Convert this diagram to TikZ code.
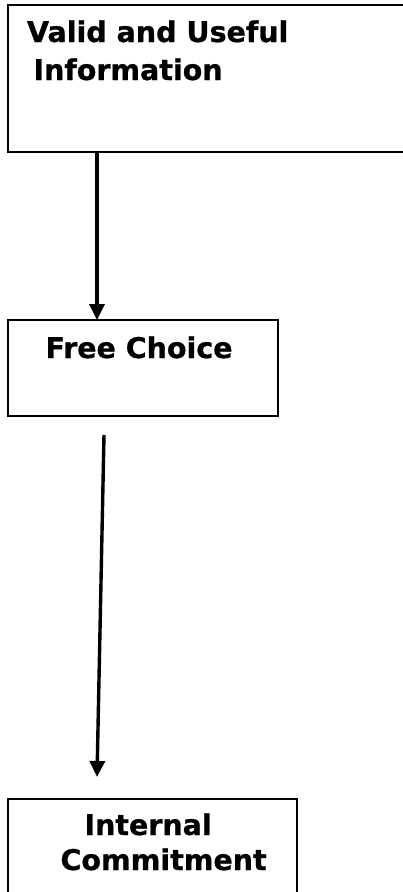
\documentclass[tikz,border=0pt]{standalone}
\usepackage{fontspec}
\setmainfont{DejaVu Sans}[BoldFeatures={FakeBold=0.8}]
\usetikzlibrary{arrows.meta}
\begin{document}
\begin{tikzpicture}[x=1pt,y=-1pt,
  box/.style={draw, line width=2.4pt, rectangle, inner sep=0pt, outer sep=0pt, anchor=north west},
  lbl/.style={inner sep=0pt, outer sep=0pt, anchor=base west, font=\fontsize{28.5}{34}\selectfont\bfseries},
  conn/.style={line width=3.4pt, -{Triangle[width=15pt,length=16pt]}}]
\clip (0,0) rectangle (403,892);
\fill[white] (0,0) rectangle (403,892);
% boxes
\node[box, minimum width=420pt, minimum height=147pt] (b1) at (8,5) {};
\node[box, minimum width=270pt, minimum height=96pt] (b2) at (8,320) {};
\node[box, minimum width=289pt, minimum height=120pt] (b3) at (8,799) {};
% texts
\node[lbl] (t1a) at (27,42) {Valid and Useful};
\node[lbl] (t1b) at (33.5,80) {Information};
\node[lbl] (t2) at (45.5,358) {Free Choice};
\node[lbl] (t3a) at (84.5,835) {Internal};
\node[lbl] (t3b) at (60.5,870) {Commitment};
% connectors
\coordinate (a1) at (97,0);
\draw[conn] (b1.south -| a1) -- (b2.north -| a1);
\coordinate (a2s) at (104,435);
\coordinate (a2e) at (97,777);
\draw[conn] (a2s) -- (a2e);
\end{tikzpicture}
\end{document}
